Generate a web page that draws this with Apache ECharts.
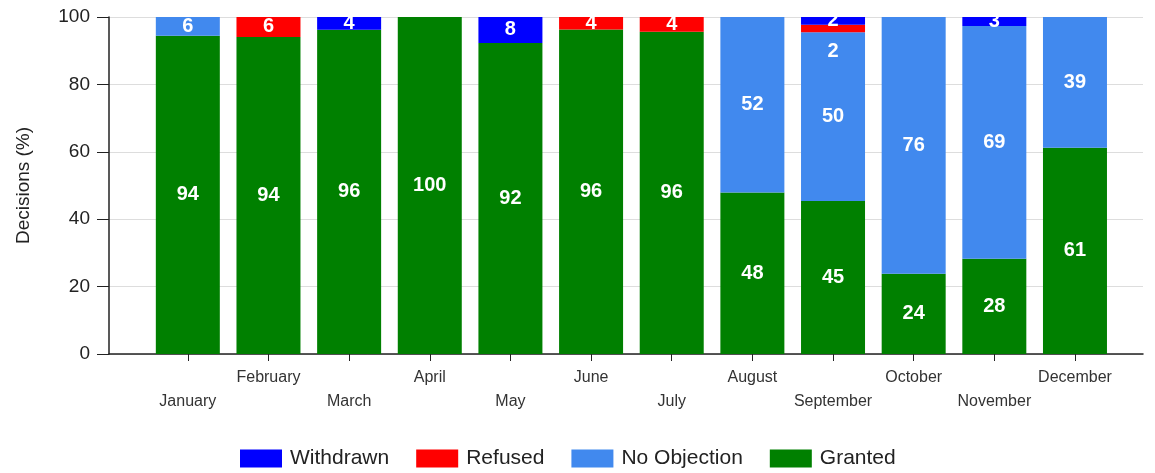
<!DOCTYPE html>
<html>
<head>
<meta charset="utf-8">
<script src="https://cdn.jsdelivr.net/npm/echarts@6/dist/echarts.min.js"></script>
<style>html,body{margin:0;padding:0;background:#fff;}#c{width:1155px;height:473px;}</style>
</head>
<body>
<div id="c"></div>
<script>
var categories = ['January','February','March','April','May','June','July','August','September','October','November','December'];
var granted     = [94.4, 94.1, 96.2, 100, 92.3, 96.3, 95.6, 47.9, 45.4, 23.8, 28.3, 61.2];
var noObjection = [5.6, null, null, null, null, null, null, 52.1, 50.1, 76.2, 69.0, 38.8];
var refused     = [null, 5.9, null, null, null, 3.7, 4.4, null, 2.2, null, null, null];
var withdrawn   = [null, null, 3.8, null, 7.7, null, null, null, 2.3, null, 2.7, null];
var yTicks = [0, 20, 40, 60, 80, 100];

var FONT = "'Liberation Sans', Arial, sans-serif";
var chart = echarts.init(document.getElementById('c'), null, {renderer: 'canvas'});

function lbl(extra) {
  var o = {
    show: true, position: 'inside', color: '#ffffff', fontFamily: FONT,
    fontWeight: 'bold', fontSize: 20,
    formatter: function (p) { return (p.value == null || p.value === 0) ? '' : String(Math.round(p.value)); }
  };
  for (var k in extra) o[k] = extra[k];
  return o;
}
function series(name, data, color, labelExtra) {
  return {
    name: name, type: 'bar', stack: 'total', xAxisIndex: 1, yAxisIndex: 1,
    barWidth: 64, data: data, itemStyle: {color: color},
    label: lbl(labelExtra || {}), emphasis: {disabled: true}, animation: false
  };
}
var refusedData = refused.map(function (v, i) {
  if (categories[i] === 'September') return {value: v, label: {offset: [0, 23]}};
  return v;
});

chart.setOption({
  animation: false,
  backgroundColor: '#ffffff',
  legend: {
    data: ['Withdrawn', 'Refused', 'No Objection', 'Granted'],
    left: 235, top: 443, itemWidth: 42, itemHeight: 18, itemGap: 27,
    icon: 'rect',
    textStyle: {fontFamily: FONT, fontSize: 21, color: '#222', padding: [0, 0, 0, 3]}
  },
  grid: [
    {left: 109, right: 12, top: 17, bottom: 119, containLabel: false},
    {left: 147.5, right: 39.7, top: 17, bottom: 119, containLabel: false}
  ],
  xAxis: [
    {type: 'value', gridIndex: 0, min: 0, max: 1, axisLabel: {show: false}, axisTick: {show: false},
     splitLine: {show: false}, axisLine: {show: true, onZero: false, lineStyle: {color: '#222', width: 1.5}}},
    {type: 'category', gridIndex: 1, data: categories, boundaryGap: true,
     axisLine: {show: false}, axisTick: {show: true, alignWithLabel: true, length: 7, lineStyle: {color: '#222'}},
     axisLabel: {interval: 0, margin: 12, fontFamily: FONT, fontSize: 16, color: '#333', lineHeight: 24,
       formatter: function (v, i) { return i % 2 === 0 ? '\n' + v : v; }}}
  ],
  yAxis: [
    {type: 'value', gridIndex: 0, min: yTicks[0], max: yTicks[yTicks.length - 1], interval: 20,
     name: 'Decisions (%)', nameLocation: 'middle', nameGap: 76,
     nameTextStyle: {fontFamily: FONT, fontSize: 19, color: '#222'},
     axisLine: {show: true, lineStyle: {color: '#222', width: 1.5}},
     axisTick: {show: true, length: 12, lineStyle: {color: '#222'}},
     axisLabel: {margin: 19, fontFamily: FONT, fontSize: 19, color: '#222'},
     splitLine: {show: true, lineStyle: {color: '#dddddd', width: 1}}},
    {type: 'value', gridIndex: 1, min: 0, max: 100, show: false, splitLine: {show: false}}
  ],
  series: [
    series('Granted', granted, '#008000'),
    series('No Objection', noObjection, '#4189ee'),
    series('Refused', refusedData, '#ff0000'),
    series('Withdrawn', withdrawn, '#0000ff')
  ]
});
</script>
</body>
</html>
